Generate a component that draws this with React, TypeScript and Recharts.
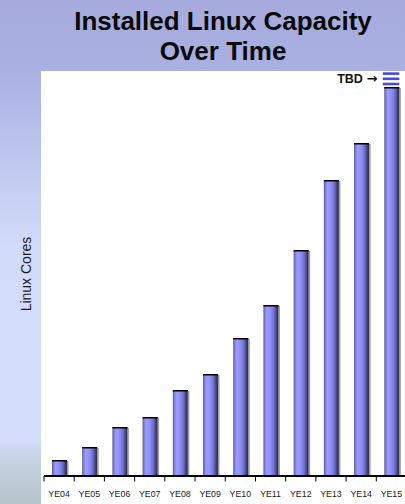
import { BarChart, Bar, XAxis, YAxis } from "recharts";

// year-end labels along the x axis
const YEARS = ["YE04", "YE05", "YE06", "YE07", "YE08", "YE09", "YE10", "YE11", "YE12", "YE13", "YE14", "YE15"];
// installed cores (relative units, no scale shown on the original)
const CORES = [16, 29, 49, 59, 86, 102, 138, 171, 226, 296, 333, 389];
// "to be determined" cap stacked on the last bar
const TBD = [0, 0, 0, 0, 0, 0, 0, 0, 0, 0, 0, 15];
const Y_MAX = 405;

const data = YEARS.map((year, i) => ({ year, cores: CORES[i], tbd: TBD[i] }));

const FONT = "'Liberation Sans', Arial, Helvetica, sans-serif";

function CylinderBar(props: any) {
  const { x, y, width, height } = props;
  if (!height || height <= 0) return null;
  return (
    <g>
      <rect x={x + width} y={y + 1} width={1.5} height={height - 1} fill="#9c9ca6" />
      <rect x={x} y={y} width={width} height={height} fill="url(#cyl)" />
      <line x1={x} x2={x + width} y1={y + 0.75} y2={y + 0.75} stroke="#000" strokeWidth={1.5} />
    </g>
  );
}

function TbdMarker(props: any) {
  const { x, y, width, height } = props;
  if (!height || height <= 0) return null;
  return (
    <g>
      {[0, 5.2, 10.4].map((o) => (
        <rect key={o} x={x - 1.5} y={y + o + 0.3} width={width + 1.5} height={2.6} fill="#4848e6" />
      ))}
      <text
        x={x - 7}
        y={y + 11.3}
        textAnchor="end"
        fontSize={12.5}
        fontWeight="bold"
        fontFamily={FONT}
        fill="#111"
      >
        TBD{" "}
        <tspan fontFamily="'DejaVu Sans', sans-serif" fontSize={13}>
          →
        </tspan>
      </text>
    </g>
  );
}

function YearTick(props: any) {
  const { x, y, payload, width, visibleTicksCount } = props;
  const step = width / (visibleTicksCount || YEARS.length);
  const bx = x - step / 2;
  return (
    <g>
      <line x1={bx} x2={bx} y1={y} y2={y + 5.5} stroke="#000" strokeWidth={1} />
      <text x={x} y={y + 20.5} textAnchor="middle" fontSize={8.8} fontFamily={FONT} fill="#1a1a1a">
        {payload.value}
      </text>
    </g>
  );
}

export default function App() {
  return (
    <div
      style={{
        position: "absolute",
        left: 0,
        top: 0,
        width: 405,
        height: 504,
        overflow: "hidden",
        background:
          "linear-gradient(to bottom, #a6aadd 0px, #aab0e2 70px, #c8d0f3 200px, #d3dbfb 250px, #d5ddfb 440px, #c6d2e4 460px, #b5c4c8 504px)",
        fontFamily: FONT,
      }}
    >
      <div
        style={{
          position: "absolute",
          left: 41,
          top: 5.5,
          width: 364,
          textAlign: "center",
          fontSize: 26,
          fontWeight: "bold",
          lineHeight: "30px",
          color: "#0a0a0a",
        }}
      >
        Installed Linux Capacity
        <br />
        Over Time
      </div>
      <div
        style={{
          position: "absolute",
          left: 26,
          top: 274,
          transform: "translate(-50%, -50%) rotate(-90deg)",
          whiteSpace: "nowrap",
          fontSize: 14,
          color: "#1a1a1a",
        }}
      >
        Linux Cores
      </div>
      <div style={{ position: "absolute", left: 41, top: 71, width: 364, height: 433, background: "#fff" }} />
      <div style={{ position: "absolute", left: 0, top: 0 }}>
        <BarChart
          width={410}
          height={504}
          data={data}
          margin={{ top: 71, right: 3.5, bottom: 0, left: 44 }}
          barSize={15}
        >
          <defs>
            <linearGradient id="cyl" x1="0" y1="0" x2="1" y2="0">
              <stop offset="0%" stopColor="#4e4e80" />
              <stop offset="8%" stopColor="#7878d4" />
              <stop offset="22%" stopColor="#9999ff" />
              <stop offset="40%" stopColor="#9494fa" />
              <stop offset="58%" stopColor="#8282e6" />
              <stop offset="72%" stopColor="#6c6cc6" />
              <stop offset="84%" stopColor="#4c4c8c" />
              <stop offset="94%" stopColor="#303052" />
              <stop offset="100%" stopColor="#3a3a50" />
            </linearGradient>
          </defs>
          <XAxis
            dataKey="year"
            height={28}
            tickSize={0}
            tickMargin={0}
            tickLine={false}
            axisLine={{ stroke: "#000", strokeWidth: 2 }}
            tick={(p: any) => <YearTick {...p} />}
            interval={0}
          />
          <YAxis hide domain={[0, Y_MAX]} />
          <Bar dataKey="cores" stackId="a" shape={(p: any) => <CylinderBar {...p} />} isAnimationActive={false} />
          <Bar dataKey="tbd" stackId="a" shape={(p: any) => <TbdMarker {...p} />} isAnimationActive={false} />
        </BarChart>
      </div>
    </div>
  );
}
